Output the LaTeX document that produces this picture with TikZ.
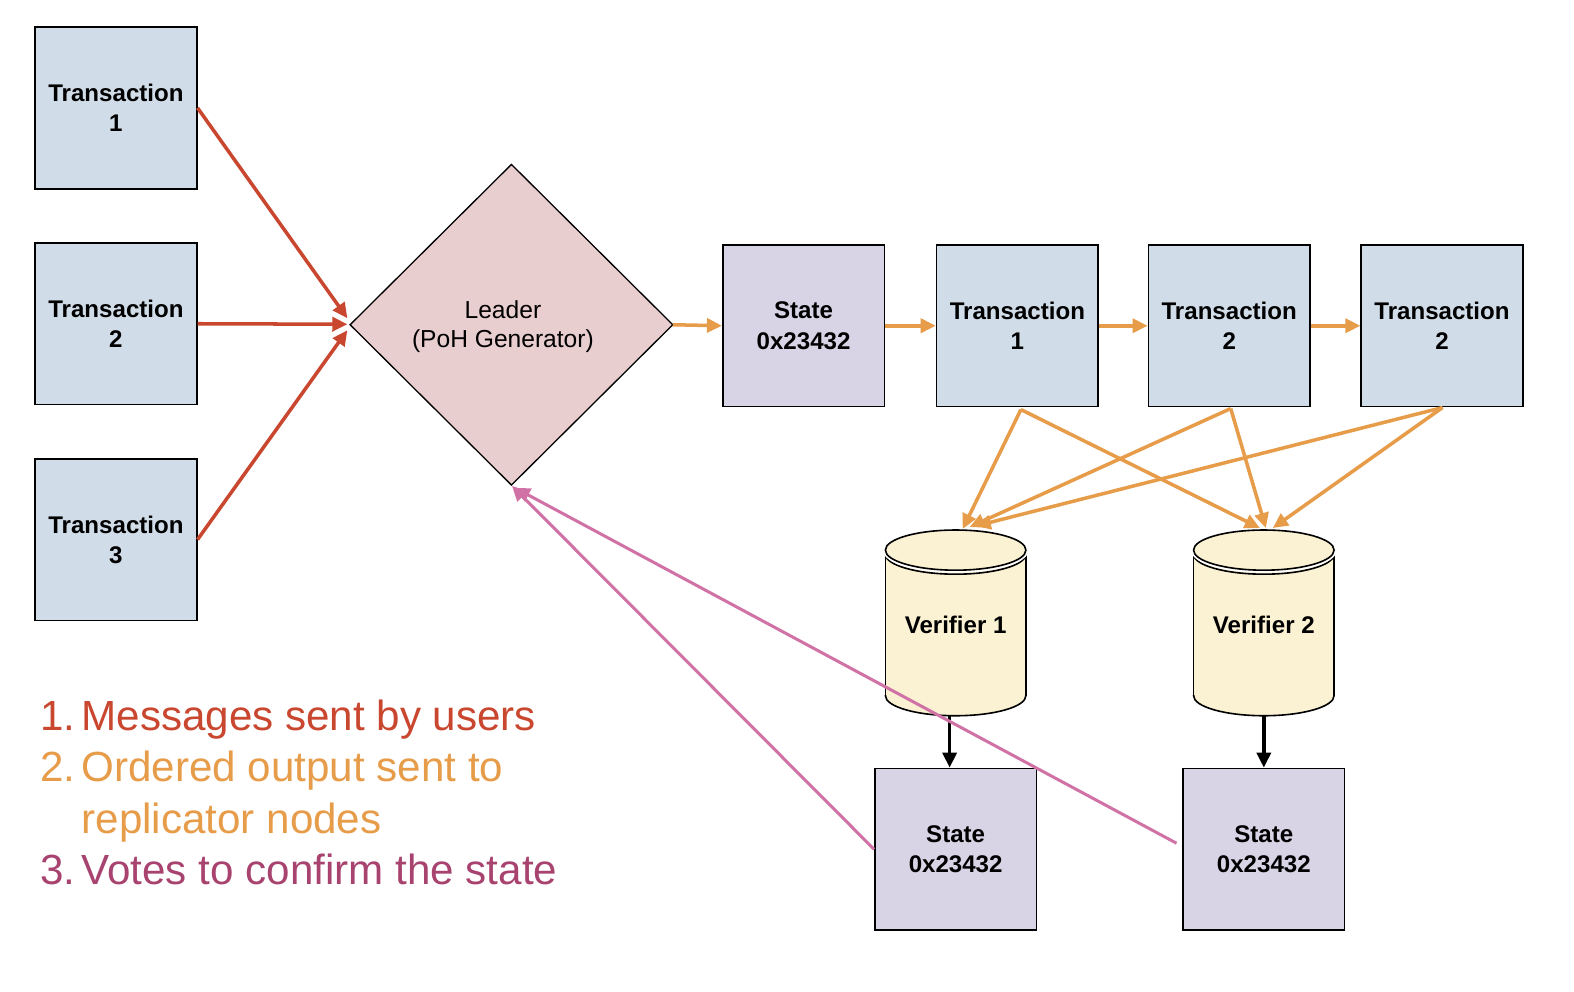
\documentclass[tikz,border=0pt]{standalone}
\usepackage{fontspec}
\setmainfont{Liberation Sans}
\usetikzlibrary{arrows.meta}
\definecolor{txblue}{HTML}{D0DCE7}
\definecolor{stpurple}{HTML}{D8D4E5}
\definecolor{leadpink}{HTML}{E9CED0}
\definecolor{cylfill}{HTML}{FBF1D3}
\definecolor{redc}{HTML}{C9462F}
\definecolor{orangec}{HTML}{E79C4A}
\definecolor{pinkc}{HTML}{D072A6}
\definecolor{legpurple}{HTML}{A8436F}
\tikzset{
  box/.style={draw=black, line width=1.6pt, minimum width=161pt, minimum height=161pt,
    inner sep=0pt, align=center, font=\fontsize{24}{30}\selectfont\bfseries},
  txbox/.style={box, fill=txblue},
  stbox/.style={box, fill=stpurple},
  tip/.style={-{Triangle[length=15pt,width=14pt]}},
  redarrow/.style={tip, draw=redc, fill=redc, line width=3.5pt},
  orarrow/.style={tip, draw=orangec, fill=orangec, line width=3.5pt},
  pkarrow/.style={tip, draw=pinkc, fill=pinkc, line width=3pt},
  blkarrow/.style={tip, draw=black, fill=black, line width=3.5pt},
  cylside/.style={draw=black, line width=1.6pt},
}
\newcommand\mycyl[3]{% center x, top y, bottom y
  \fill[cylfill] ({#1-70},{#2+24}) rectangle ({#1+70},{#3-20});
  \fill[cylfill] (#1,{#3-20}) ellipse[x radius=70, y radius=20];
  \begin{scope}
    \clip ({#1-80},{#3-20}) rectangle ({#1+80},{#3+5});
    \draw[cylside] (#1,{#3-20}) ellipse[x radius=70, y radius=20];
  \end{scope}
  \begin{scope}
    \clip ({#1-80},{#2+24}) rectangle ({#1+80},{#2+50});
    \draw[cylside] (#1,{#2+24}) ellipse[x radius=70, y radius=20];
  \end{scope}
  \draw[cylside] ({#1-70},{#2+24}) -- ({#1-70},{#3-20});
  \draw[cylside] ({#1+70},{#2+24}) -- ({#1+70},{#3-20});
  \draw[white, line width=5pt] (#1,{#2+20}) ellipse[x radius=70, y radius=20];
  \draw[cylside, fill=cylfill] (#1,{#2+20}) ellipse[x radius=70, y radius=20];
}
\begin{document}
\begin{tikzpicture}[x=1pt,y=-1pt]
\useasboundingbox[fill=white] (0,0) rectangle (1568,988);

% left transactions
\node[txbox] (in1) at (115.5,107.5) {Transaction\\1};
\node[txbox] (in2) at (115.5,322.5) {Transaction\\2};
\node[txbox] (in3) at (115.5,537.5) {Transaction\\3};

% leader diamond
\node[minimum width=321pt, minimum height=319pt, inner sep=0pt] (leader) at (509.5,323.5) {};
\draw[fill=leadpink, line width=1.3pt] (leader.west) -- (leader.north) -- (leader.east) -- (leader.south) -- cycle;
\node[align=center, font=\fontsize{24.5}{29}\selectfont] (leadtxt) at (501,325) {Leader\\(PoH Generator)};

% chain
\node[stbox] (st0) at (800.5,324.5) {State\\0x23432};
\node[txbox] (t1) at (1013.5,324.5) {Transaction\\1};
\node[txbox] (t2) at (1224.5,324.5) {Transaction\\2};
\node[txbox] (t3) at (1436.5,324.5) {Transaction\\2};

% verifiers
\node[minimum width=140pt, minimum height=185pt, inner sep=0pt] (v1) at (952,620.5) {};
\node[minimum width=140pt, minimum height=185pt, inner sep=0pt] (v2) at (1259,620.5) {};
\mycyl{952}{528}{713}
\mycyl{1259}{528}{713}
\node[font=\fontsize{24}{30}\selectfont\bfseries] (v1t) at (952,622) {Verifier 1};
\node[font=\fontsize{24}{30}\selectfont\bfseries] (v2t) at (1259,622) {Verifier 2};

% resulting states
\node[stbox] (s1) at (952,846) {State\\0x23432};
\node[stbox] (s2) at (1259,846) {State\\0x23432};

% coordinates
\coordinate (lin1) at (346,317);
\coordinate (lin2) at (346,323);
\coordinate (lin3) at (346,329);
\coordinate (t1o) at (1017,408);
\coordinate (t2o) at (1226,407);
\coordinate (t3o) at (1437,406);
\coordinate (v1a) at (959,527);
\coordinate (v1b) at (966,525);
\coordinate (v1c) at (972,524);
\coordinate (v2a) at (1255,526);
\coordinate (v2b) at (1261,526);
\coordinate (v2c) at (1268,526);
\coordinate (s2p) at (1172,840);
\coordinate (ldb1) at (510,484);
\coordinate (ldb2) at (513,486);

% red arrows
\draw[redarrow] (in1.east) -- (lin1);
\draw[redarrow] (in2.east) -- (lin2);
\draw[redarrow] (in3.east) -- (lin3);

% orange chain arrows
\draw[orarrow] (leader.east) -- (st0.west);
\draw[orarrow] (st0.east) -- (t1.west);
\draw[orarrow] (t1.east) -- (t2.west);
\draw[orarrow] (t2.east) -- (t3.west);

% orange fan
\draw[orarrow] (t1o) -- (v1a);
\draw[orarrow] (t1o) -- (v2a);
\draw[orarrow] (t2o) -- (v1b);
\draw[orarrow] (t2o) -- (v2b);
\draw[orarrow] (t3o) -- (v1c);
\draw[orarrow] (t3o) -- (v2c);

% black arrows
\draw[blkarrow] ([xshift=-6pt]v1.south) -- ([xshift=-6pt]s1.north);
\draw[blkarrow] (v2.south) -- (s2.north);

% pink arrows
\draw[pkarrow] (s1.west) -- (ldb1);
\draw[pkarrow] (s2p) -- (ldb2);

% legend
\node[anchor=base west, inner sep=0pt, font=\fontsize{42}{51}\selectfont] (legend) at (40,728) {%
\begin{tabular}[t]{@{}l@{\hspace{6pt}}l@{}}
\textcolor{redc}{1.} & \textcolor{redc}{Messages sent by users}\\
\textcolor{orangec}{2.} & \textcolor{orangec}{Ordered output sent to}\\
 & \textcolor{orangec}{replicator nodes}\\
\textcolor{legpurple}{3.} & \textcolor{legpurple}{Votes to confirm the state}
\end{tabular}};
\end{tikzpicture}
\end{document}
